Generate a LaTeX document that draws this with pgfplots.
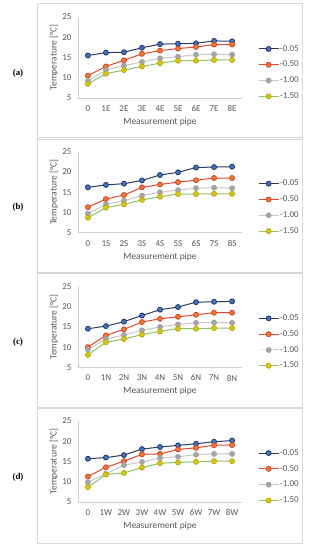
\documentclass[border=0pt]{standalone}
\usepackage{pgfplots}
\pgfplotsset{compat=1.18}
\usepackage{pgfplotstable}
\usepackage{fontspec}
\setmainfont{Carlito}
\newfontfamily\serifpanel{Liberation Serif}
\definecolor{txt}{HTML}{595959}
\definecolor{frm}{HTML}{D9D9D9}
\definecolor{axl}{HTML}{D0D0D0}
\definecolor{lA}{HTML}{2F3B57}
\definecolor{mA}{HTML}{4472C4}
\definecolor{dA}{HTML}{203864}
\definecolor{lB}{HTML}{E8452C}
\definecolor{mB}{HTML}{ED7D31}
\definecolor{dB}{HTML}{D2402A}
\definecolor{lC}{HTML}{C8C8C8}
\definecolor{mC}{HTML}{A5A5A5}
\definecolor{lD}{HTML}{8CC466}
\definecolor{mD}{HTML}{D6C81E}
\definecolor{dD}{HTML}{B8AA00}

\pgfplotstableread{
x s1 s2 s3 s4
0 15.5 10.5 9.2 8.5
1 16.2 12.8 11.9 11.0
2 16.3 14.3 13.0 11.9
3 17.4 15.9 13.9 12.8
4 18.3 16.7 14.8 13.6
5 18.4 17.2 15.2 14.2
6 18.5 17.6 15.7 14.2
7 19.1 18.2 15.8 14.4
8 19.0 18.2 15.7 14.4
}\tA
\pgfplotstableread{
x s1 s2 s3 s4
0 16.2 11.3 9.7 8.7
1 16.8 13.3 12.0 11.2
2 17.1 14.3 12.9 12.0
3 17.9 16.2 14.15 13.1
4 19.25 16.9 15.0 13.9
5 19.9 17.5 15.5 14.55
6 21.1 17.95 16.0 14.55
7 21.2 18.5 16.1 14.6
8 21.3 18.5 16.0 14.6
}\tB
\pgfplotstableread{
x s1 s2 s3 s4
0 14.55 10.0 9.4 8.1
1 15.2 12.9 12.0 11.2
2 16.3 14.4 13.0 12.0
3 17.8 16.2 14.15 13.1
4 19.25 17.0 15.0 13.9
5 19.9 17.5 15.6 14.55
6 21.1 18.0 16.0 14.55
7 21.2 18.5 16.1 14.7
8 21.3 18.5 16.0 14.7
}\tC
\pgfplotstableread{
x s1 s2 s3 s4
0 15.7 11.3 9.9 8.7
1 16.0 13.6 12.0 11.8
2 16.6 15.1 14.1 12.2
3 18.1 16.8 14.9 13.5
4 18.6 16.9 15.9 14.6
5 19.0 18.0 16.2 14.8
6 19.4 18.4 16.7 14.95
7 19.9 19.05 16.9 15.1
8 20.2 19.1 16.9 15.1
}\tD

\newcommand{\panel}[4]{%
  \draw[frm, line width=0.8bp] (37bp,{-(3+#1)*1bp}) rectangle (302bp,{-(139+#1)*1bp});
  \node[font=\serifpanel\bfseries\fontsize{9}{10}\selectfont, text=black] at (18bp,{-(73+#1)*1bp}) {(#4)};
  \begin{axis}[
    at={(78bp,{-(98+#1)*1bp})}, anchor=south west,
    scale only axis, width=164bp, height=81bp,
    xmin=-0.55, xmax=8.55, ymin=5, ymax=25,
    xtick={0,1,2,3,4,5,6,7,8},
    xticklabels={0,1#3,2#3,3#3,4#3,5#3,6#3,7#3,8#3},
    ytick={5,10,15,20,25},
    axis x line*=bottom, axis y line*=left,
    axis line style={axl, line width=0.8bp, -},
    major tick length=0pt,
    clip=false,
    tick label style={font=\fontsize{9}{10}\selectfont, text=txt},
    /pgf/number format/assume math mode=true,
    xticklabel style={yshift=-4bp},
    yticklabel style={xshift=-3bp},
    xlabel={Measurement pipe}, ylabel={Temperature [°C]},
    xlabel style={at={(axis description cs:0.5,-0.296)}, anchor=center, font=\fontsize{9.5}{11}\selectfont, text=txt},
    ylabel style={at={(axis description cs:-0.146,0.5)}, anchor=center, font=\fontsize{9.5}{11}\selectfont, text=txt},
    legend style={at={(axis description cs:1.079,0.69)}, anchor=north west, draw=none, fill=none,
      font=\fontsize{9}{10}\selectfont, text=txt, row sep=6.5bp, nodes={inner sep=1bp}},
    legend cell align=left,
    legend image code/.code={\draw[mark repeat=2,mark phase=2,##1] plot coordinates {(0bp,0bp) (10bp,0bp) (20bp,0bp)};},
  ]
  \addplot[lA, line width=1bp, mark=*, mark size=2.5bp, mark options={draw=dA, fill=mA, line width=0.8bp}] table[x=x,y=s1] {#2};
  \addlegendentry{-0.05}
  \addplot[lB, line width=1bp, mark=*, mark size=2.5bp, mark options={draw=dB, fill=mB, line width=0.8bp}] table[x=x,y=s2] {#2};
  \addlegendentry{-0.50}
  \addplot[lC, line width=1bp, mark=*, mark size=2.5bp, mark options={draw=mC, fill=mC, line width=0.8bp}] table[x=x,y=s3] {#2};
  \addlegendentry{-1.00}
  \addplot[lD, line width=1bp, mark=*, mark size=2.5bp, mark options={draw=dD, fill=mD, line width=0.8bp}] table[x=x,y=s4] {#2};
  \addlegendentry{-1.50}
  \end{axis}
}

\begin{document}
\begin{tikzpicture}
\useasboundingbox[fill=white] (0,0) rectangle (309bp,-550bp);
\panel{0}{\tA}{E}{a}
\panel{134.7}{\tB}{S}{b}
\panel{269.4}{\tC}{N}{c}
\panel{404.1}{\tD}{W}{d}
\end{tikzpicture}
\end{document}
